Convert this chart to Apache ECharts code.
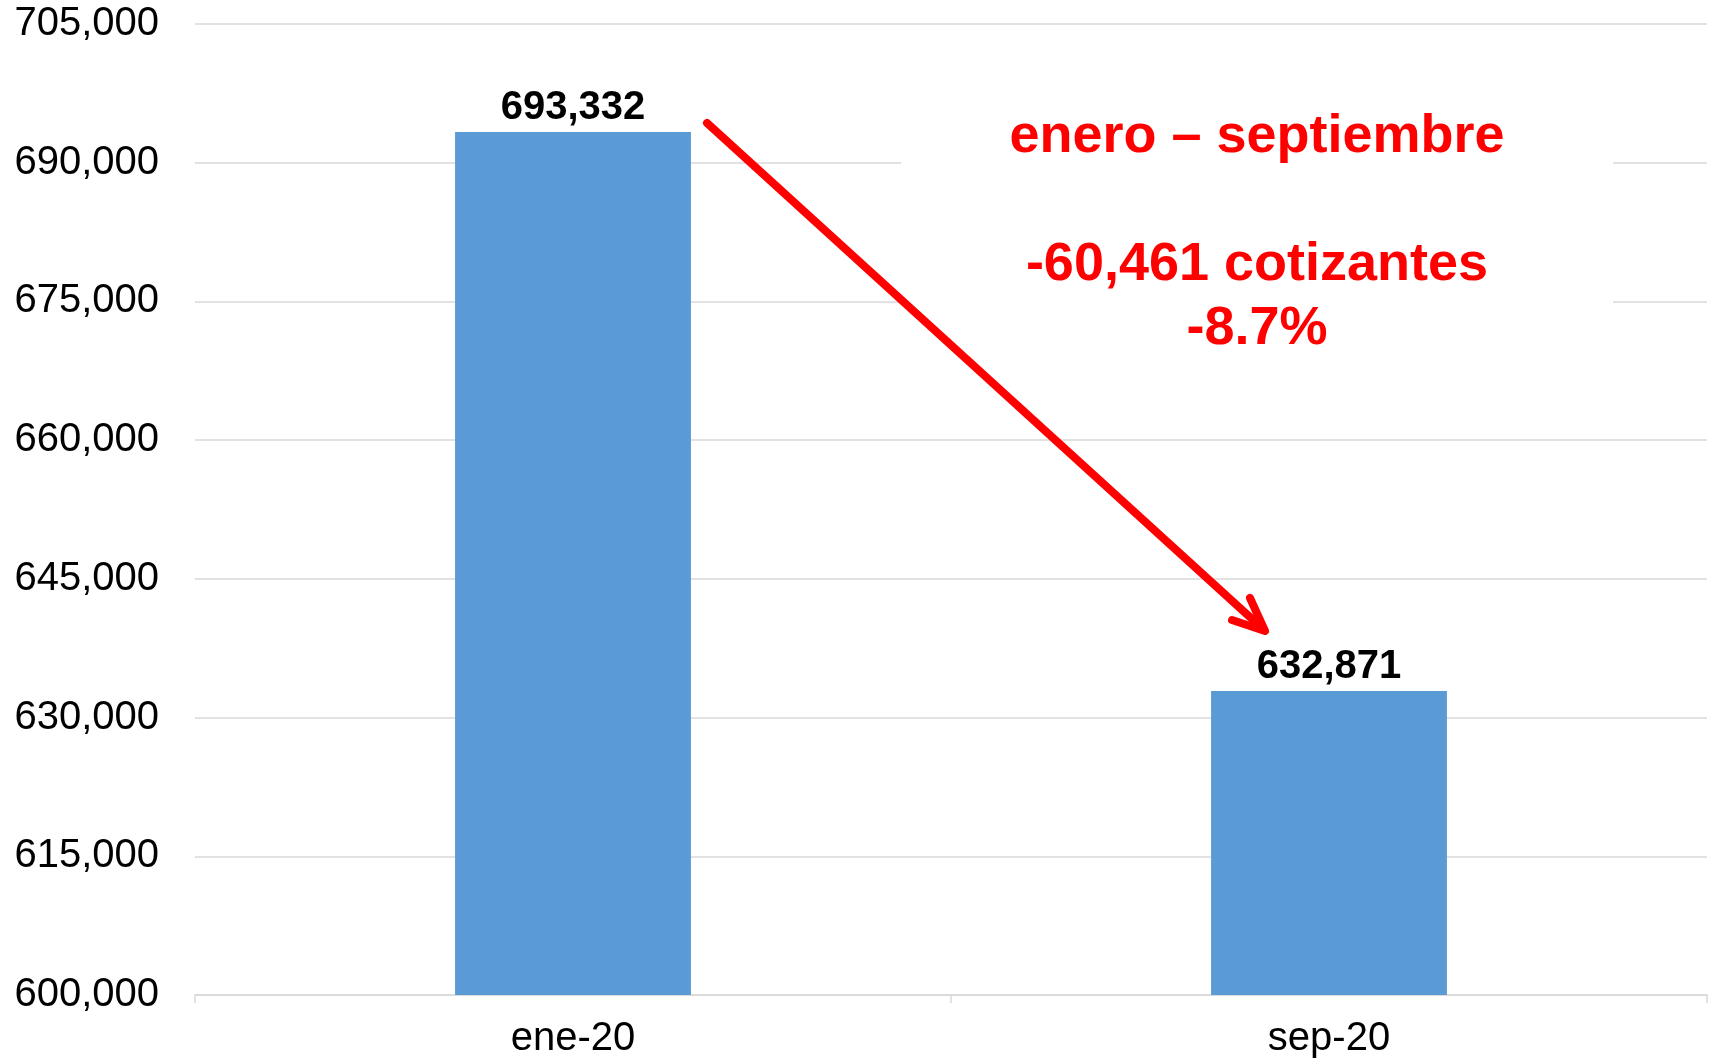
<!DOCTYPE html>
<html>
<head>
<meta charset="utf-8">
<script src="https://cdn.jsdelivr.net/npm/echarts@6/dist/echarts.min.js"></script>
<style>
html,body{margin:0;padding:0;background:#fff;}
#chart{width:1713px;height:1059px;}
</style>
</head>
<body>
<div id="chart"></div>
<script>
var categories = ['ene-20', 'sep-20'];
var values = [693332, 632871];
var yMin = 600000, yMax = 705000, yStep = 15000;
var noteLines = ['enero – septiembre', '', '-60,461 cotizantes', '-8.7%'];

var FONT = "'Liberation Sans', Arial, sans-serif";
var chart = echarts.init(document.getElementById('chart'));

function fmt(v){ return v.toString().replace(/\B(?=(\d{3})+(?!\d))/g, ','); }

chart.setOption({
  animation: false,
  backgroundColor: '#ffffff',
  grid: { left: 195, right: 6, top: 24, bottom: 60 },
  xAxis: {
    type: 'category',
    data: categories,
    axisLine: { lineStyle: { color: '#d9d9d9', width: 1.5 } },
    axisTick: { show: true, length: 8, lineStyle: { color: '#d9d9d9', width: 1.5 } },
    axisLabel: { color: '#000', fontFamily: FONT, fontSize: 40, margin: 24 }
  },
  yAxis: {
    type: 'value',
    min: yMin, max: yMax, interval: yStep,
    axisLine: { show: false },
    axisTick: { show: false },
    splitLine: { lineStyle: { color: '#d9d9d9', width: 1.5 } },
    axisLabel: { color: '#000', fontFamily: FONT, fontSize: 40, margin: 36, formatter: fmt }
  },
  series: [{
    type: 'bar',
    data: values,
    barWidth: '31.2%',
    itemStyle: { color: '#5B9BD5' },
    label: {
      show: true, position: 'top', distance: 4,
      color: '#000', fontFamily: FONT, fontWeight: 'bold', fontSize: 40,
      formatter: function(p){ return fmt(p.value); }
    }
  }],
  graphic: [
    { type: 'rect', z: 10, shape: { x: 901, y: 95, width: 712, height: 280 }, style: { fill: '#ffffff' } },
    { type: 'text', z: 20, x: 1257, y: 105,
      style: { text: noteLines.join('\n'), fill: '#ff0000', font: "bold 54px 'Liberation Sans', Arial, sans-serif",
               textAlign: 'center', textVerticalAlign: 'top', lineHeight: 64 } },
    { type: 'polyline', z: 30, shape: { points: [[707, 123], [1263, 629]] },
      style: { stroke: '#ff0000', lineWidth: 8, lineCap: 'round', fill: null } },
    { type: 'polyline', z: 30, shape: { points: [[1250, 598], [1265, 631], [1232, 620]] },
      style: { stroke: '#ff0000', lineWidth: 8, lineCap: 'round', lineJoin: 'round', fill: null } }
  ]
});
</script>
</body>
</html>
